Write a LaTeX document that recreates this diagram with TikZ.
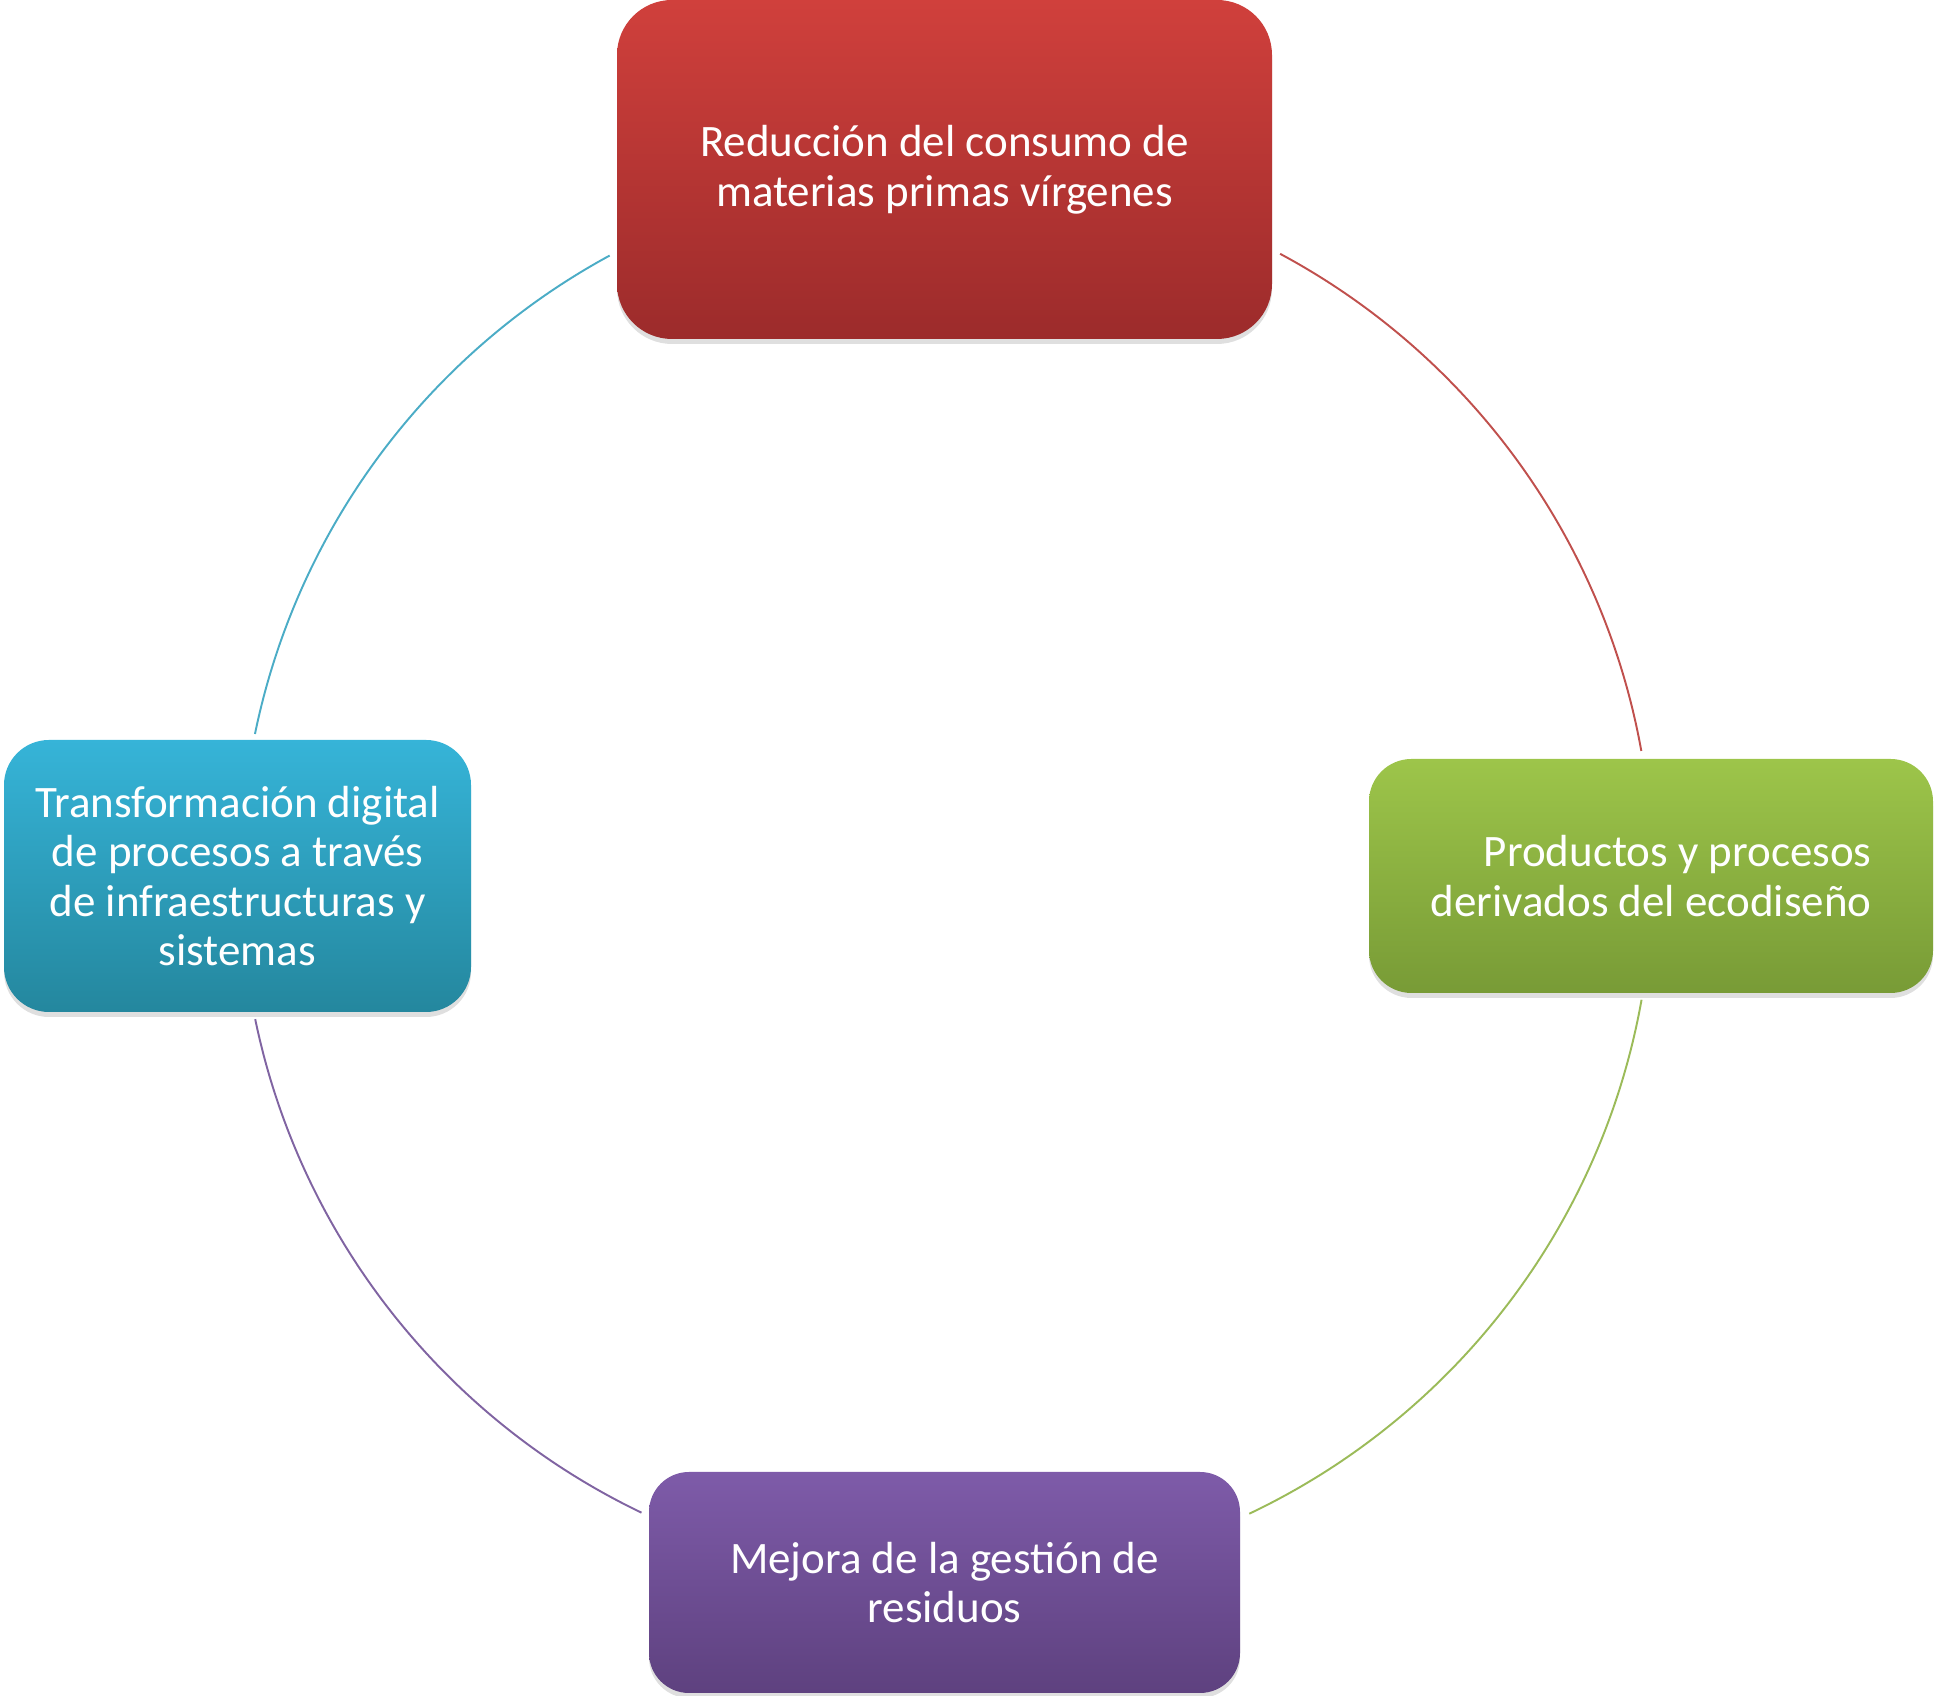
\documentclass[tikz,border=0pt]{standalone}
\usepackage{fontspec}
\setmainfont{Carlito}
\usetikzlibrary{shadows,calc}

\definecolor{rojoSup}{HTML}{D0403C}
\definecolor{rojoInf}{HTML}{9C2B2B}
\definecolor{verdeSup}{HTML}{9DC54A}
\definecolor{verdeInf}{HTML}{789B36}
\definecolor{azulSup}{HTML}{36B4D8}
\definecolor{azulInf}{HTML}{24879E}
\definecolor{violetaSup}{HTML}{7E5BA9}
\definecolor{violetaInf}{HTML}{5E417F}
\definecolor{lineaRoja}{HTML}{C0504D}
\definecolor{lineaVerde}{HTML}{9BBB59}
\definecolor{lineaVioleta}{HTML}{8064A2}
\definecolor{lineaAzul}{HTML}{4BACC6}

\begin{document}
\begin{tikzpicture}[x=1cm, y=1cm,
	etapa/.style={rounded corners=#1, align=center, text=white, inner sep=0pt,
		font=\fontsize{25.6}{28.2}\selectfont,
		drop shadow={shadow xshift=0cm, shadow yshift=-0.1cm, opacity=0.25}},
	anillo/.style={line width=1.1pt}
]
\useasboundingbox (0,0) rectangle (38.7,33.92);

\coordinate (centro) at (18.93,16.40);
\def\radio{14.12}

% arcos del ciclo
\foreach \ini/\fin/\col [count=\k] in {61.8/10.2/lineaRoja, -10.1/-64.6/lineaVerde,
	-115.6/-168.3/lineaVioleta, 168.4/118.5/lineaAzul}{
	\coordinate (arco\k) at ($(centro)+(\ini:\radio)$);
	\draw [anillo, draw=\col] (arco\k) arc [start angle=\ini, end angle=\fin, radius=\radio];
}

\node [etapa=1.1cm, top color=rojoSup, bottom color=rojoInf,
	minimum width=13.1cm, minimum height=6.78cm] (reduccion) at (18.89,30.53)
	{Reducción del consumo de\\materias primas vírgenes};
\node [etapa=0.85cm, top color=verdeSup, bottom color=verdeInf,
	minimum width=11.28cm, minimum height=4.68cm, align=right] (ecodiseno) at (33.02,16.40)
	{Productos y procesos\\derivados del ecodiseño};
\node [etapa=0.8cm, top color=violetaSup, bottom color=violetaInf,
	minimum width=11.82cm, minimum height=4.42cm] (residuos) at (18.89,2.27)
	{Mejora de la gestión de\\residuos};
\node [etapa=0.9cm, top color=azulSup, bottom color=azulInf,
	minimum width=9.34cm, minimum height=5.44cm] (digital) at (4.75,16.40)
	{Transformación digital\\de procesos a través\\de infraestructuras y\\sistemas};
\end{tikzpicture}
\end{document}
